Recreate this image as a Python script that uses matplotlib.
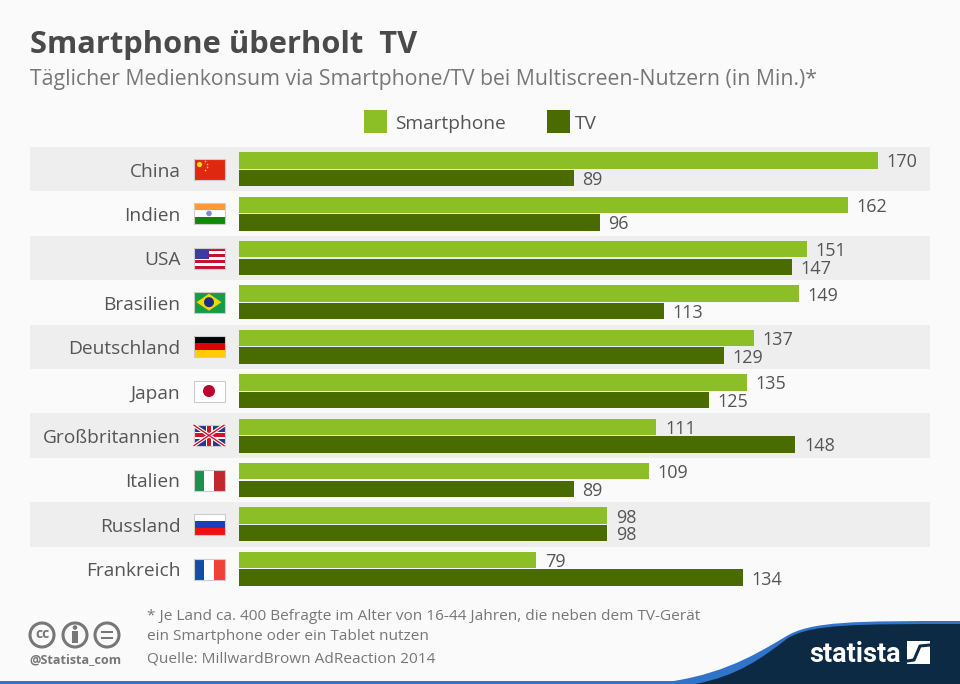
import numpy as np
import matplotlib
matplotlib.use("Agg")
import matplotlib.pyplot as plt
from matplotlib.patches import Rectangle, Circle, Polygon, PathPatch
from matplotlib.path import Path

plt.rcParams["font.family"] = ["Open Sans", "DejaVu Sans"]

countries = ["China", "Indien", "USA", "Brasilien", "Deutschland", "Japan",
             "Großbritannien", "Italien", "Russland", "Frankreich"]
smartphone = [170, 162, 151, 149, 137, 135, 111, 109, 98, 79]
tv = [89, 96, 147, 113, 129, 125, 148, 89, 98, 134]

BG = "#fafafa"
BAND = "#eeeeee"
LIGHT = "#8cbf26"
DARK = "#4a6b00"
TEXT = "#555555"
GREY = "#777777"
NAVY = "#0d2a45"
BLUE = "#2f74c8"

fig = plt.figure(figsize=(9.6, 6.84), dpi=100, facecolor=BG)


def px_axes(left, top, right, bottom):
    return fig.add_axes([left / 960, 1 - bottom / 684, (right - left) / 960, (bottom - top) / 684])


########### #
# bars
########### #
ax = px_axes(30, 147, 930, 591)
ax.set_xlim((30 - 239) / 3.76, (930 - 239) / 3.76)
ax.set_ylim(9.5, -0.5)
ax.axis("off")

for i in range(0, len(countries), 2):
    ax.axhspan(i - 0.5, i + 0.5, color=BAND, lw=0, zorder=0)

y = np.arange(len(countries))
ax.barh(y - 0.2, smartphone, height=0.37, left=0, color=LIGHT, zorder=2)
ax.barh(y + 0.2, tv, height=0.37, left=0, color=DARK, zorder=2)

for i, name in enumerate(countries):
    ax.text(-15.6, i + 0.055, name, ha="right", va="center", fontsize=13.8, color=TEXT)
    ax.text(smartphone[i] + 2.3, i - 0.155, str(smartphone[i]), ha="left", va="center",
            fontsize=13, color=TEXT)
    ax.text(tv[i] + 2.3, i + 0.245, str(tv[i]), ha="left", va="center", fontsize=13, color=TEXT)

########### #
# overlay in pixels: texts, flags, footer
########### #
ov = px_axes(0, 0, 960, 684)
ov.set_xlim(0, 960)
ov.set_ylim(684, 0)
ov.axis("off")
ov.patch.set_alpha(0)

ov.text(30, 45, "Smartphone überholt  TV", fontsize=22.2, fontweight="bold", color="#4a4a4a",
        ha="left", va="center")
ov.text(30, 79, "Täglicher Medienkonsum via Smartphone/TV bei Multiscreen-Nutzern (in Min.)*",
        fontsize=15.3, color=GREY, ha="left", va="center")

# legend
ov.add_patch(Rectangle((364, 110), 23, 23, color=LIGHT, lw=0))
ov.text(395, 124, "Smartphone", fontsize=13.8, color=TEXT, ha="left", va="center")
ov.add_patch(Rectangle((547, 110), 23, 23, color=DARK, lw=0))
ov.text(575, 124, "TV", fontsize=13.8, color=TEXT, ha="left", va="center")


def stripes(x, top, colors, horizontal=True, w=31, h=21):
    n = len(colors)
    for k, c in enumerate(colors):
        if horizontal:
            ov.add_patch(Rectangle((x, top + k * h / n), w, h / n, color=c, lw=0))
        else:
            ov.add_patch(Rectangle((x + k * w / n, top), w / n, h, color=c, lw=0))


def draw_flag(name, cy):
    x, w, h = 193.5, 31, 21
    top = cy - h / 2
    if name == "China":
        stripes(x, top, ["#de2910"])
        ov.add_patch(Circle((x + 6, top + 6), 2.6, color="#ffde00", lw=0))
        for dx, dy in [(12, 3), (14, 6), (14, 9), (12, 12)]:
            ov.add_patch(Circle((x + dx, top + dy), 0.8, color="#ffde00", lw=0))
    elif name == "Indien":
        stripes(x, top, ["#ff9933", "#ffffff", "#138808"])
        ov.add_patch(Circle((x + w / 2, cy), 2.8, color="#8888cc", lw=0))
    elif name == "USA":
        stripes(x, top, ["#c8102e", "#ffffff"] * 3 + ["#c8102e"])
        ov.add_patch(Rectangle((x, top), 15, 11, color="#3c3b9e", lw=0))
    elif name == "Brasilien":
        stripes(x, top, ["#169b48"])
        ov.add_patch(Polygon([(x + 3, cy), (x + w / 2, top + 2), (x + w - 3, cy), (x + w / 2, top + h - 2)],
                             color="#f5d800", lw=0))
        ov.add_patch(Circle((x + w / 2, cy), 5, color="#1c2f7c", lw=0))
    elif name == "Deutschland":
        stripes(x, top, ["#000000", "#dd0000", "#ffce00"])
    elif name == "Japan":
        stripes(x, top, ["#ffffff"])
        ov.add_patch(Circle((x + w / 2, cy), 6, color="#bc002d", lw=0))
    elif name == "Großbritannien":
        stripes(x, top, ["#1f3a8a"])
        ov.plot([x, x + w], [top, top + h], color="#ffffff", lw=2.6, solid_capstyle="butt")
        ov.plot([x, x + w], [top + h, top], color="#ffffff", lw=2.6, solid_capstyle="butt")
        ov.plot([x, x + w], [top, top + h], color="#cf142b", lw=1, solid_capstyle="butt")
        ov.plot([x, x + w], [top + h, top], color="#cf142b", lw=1, solid_capstyle="butt")
        ov.add_patch(Rectangle((x + w / 2 - 3.5, top), 7, h, color="#ffffff", lw=0))
        ov.add_patch(Rectangle((x, cy - 3.5), w, 7, color="#ffffff", lw=0))
        ov.add_patch(Rectangle((x + w / 2 - 2, top), 4, h, color="#cf142b", lw=0))
        ov.add_patch(Rectangle((x, cy - 2), w, 4, color="#cf142b", lw=0))
    elif name == "Italien":
        stripes(x, top, ["#1a9150", "#ffffff", "#c1272d"], horizontal=False)
    elif name == "Russland":
        stripes(x, top, ["#ffffff", "#1c3fb5", "#ee1111"])
    elif name == "Frankreich":
        stripes(x, top, ["#0f4fa8", "#ffffff", "#ef4135"], horizontal=False)
    ov.add_patch(Rectangle((x, top), w, h, fill=False, ec="#cccccc", lw=0.8))


row_centers = [169, 213.4, 258, 302.2, 346.6, 391, 435.4, 480, 524.2, 569]
for name, cy in zip(countries, row_centers):
    draw_flag(name, cy)

# footer notes
ov.text(147, 617, "* Je Land ca. 400 Befragte im Alter von 16-44 Jahren, die neben dem TV-Gerät",
        fontsize=11.1, color=GREY, ha="left", va="center")
ov.text(147, 636, "ein Smartphone oder ein Tablet nutzen", fontsize=11.1, color=GREY, ha="left", va="center")
ov.text(147, 659, "Quelle: MillwardBrown AdReaction 2014", fontsize=11.1, color=GREY, ha="left", va="center")

# cc icons
for cx in [42, 75, 107]:
    ov.add_patch(Circle((cx, 635), 12, fill=False, ec=GREY, lw=2.2))
ov.text(42, 634.5, "cc", fontsize=10, fontweight="bold", color=GREY, ha="center", va="center")
ov.add_patch(Circle((75, 627.5), 2.3, color=GREY, lw=0))
ov.add_patch(Rectangle((72, 631), 6, 12, color=GREY, lw=0))
ov.add_patch(Rectangle((101, 631), 12, 2.4, color=GREY, lw=0))
ov.add_patch(Rectangle((101, 637), 12, 2.4, color=GREY, lw=0))
ov.text(75, 660, "@Statista_com", fontsize=9.1, fontweight="bold", color=GREY, ha="center", va="center")

# bottom swoosh
ov.add_patch(Rectangle((0, 681), 960, 3, color=BLUE, lw=0))
swoosh_codes = [Path.MOVETO, Path.CURVE4, Path.CURVE4, Path.CURVE4, Path.CURVE4, Path.CURVE4, Path.CURVE4,
                Path.LINETO, Path.LINETO, Path.CLOSEPOLY]
blue_verts = [(650, 684), (715, 678), (750, 658), (785, 637), (810, 621), (855, 621),
              (960, 621), (960, 684), (650, 684)]
ov.add_patch(PathPatch(Path(blue_verts, swoosh_codes[:6] + [Path.LINETO, Path.LINETO, Path.CLOSEPOLY]), fc=BLUE, lw=0))
navy_verts = [(695, 684), (738, 676), (762, 658), (788, 638), (812, 624), (855, 624),
              (960, 624), (960, 684), (695, 684)]
ov.add_patch(PathPatch(Path(navy_verts, swoosh_codes[:6] + [Path.LINETO, Path.LINETO, Path.CLOSEPOLY]), fc=NAVY, lw=0))
ov.text(809, 654, "statista", fontsize=19.5, fontweight="bold", color="#ffffff", ha="left", va="center",
        family=["Roboto", "DejaVu Sans"], stretch="condensed")
ov.add_patch(Rectangle((907, 641), 23, 23, color="#ffffff", lw=0))
ov.plot([907, 914, 920, 930], [661, 660, 646, 645], color=NAVY, lw=2.2)

fig.savefig("out.png", dpi=100, facecolor=BG)
